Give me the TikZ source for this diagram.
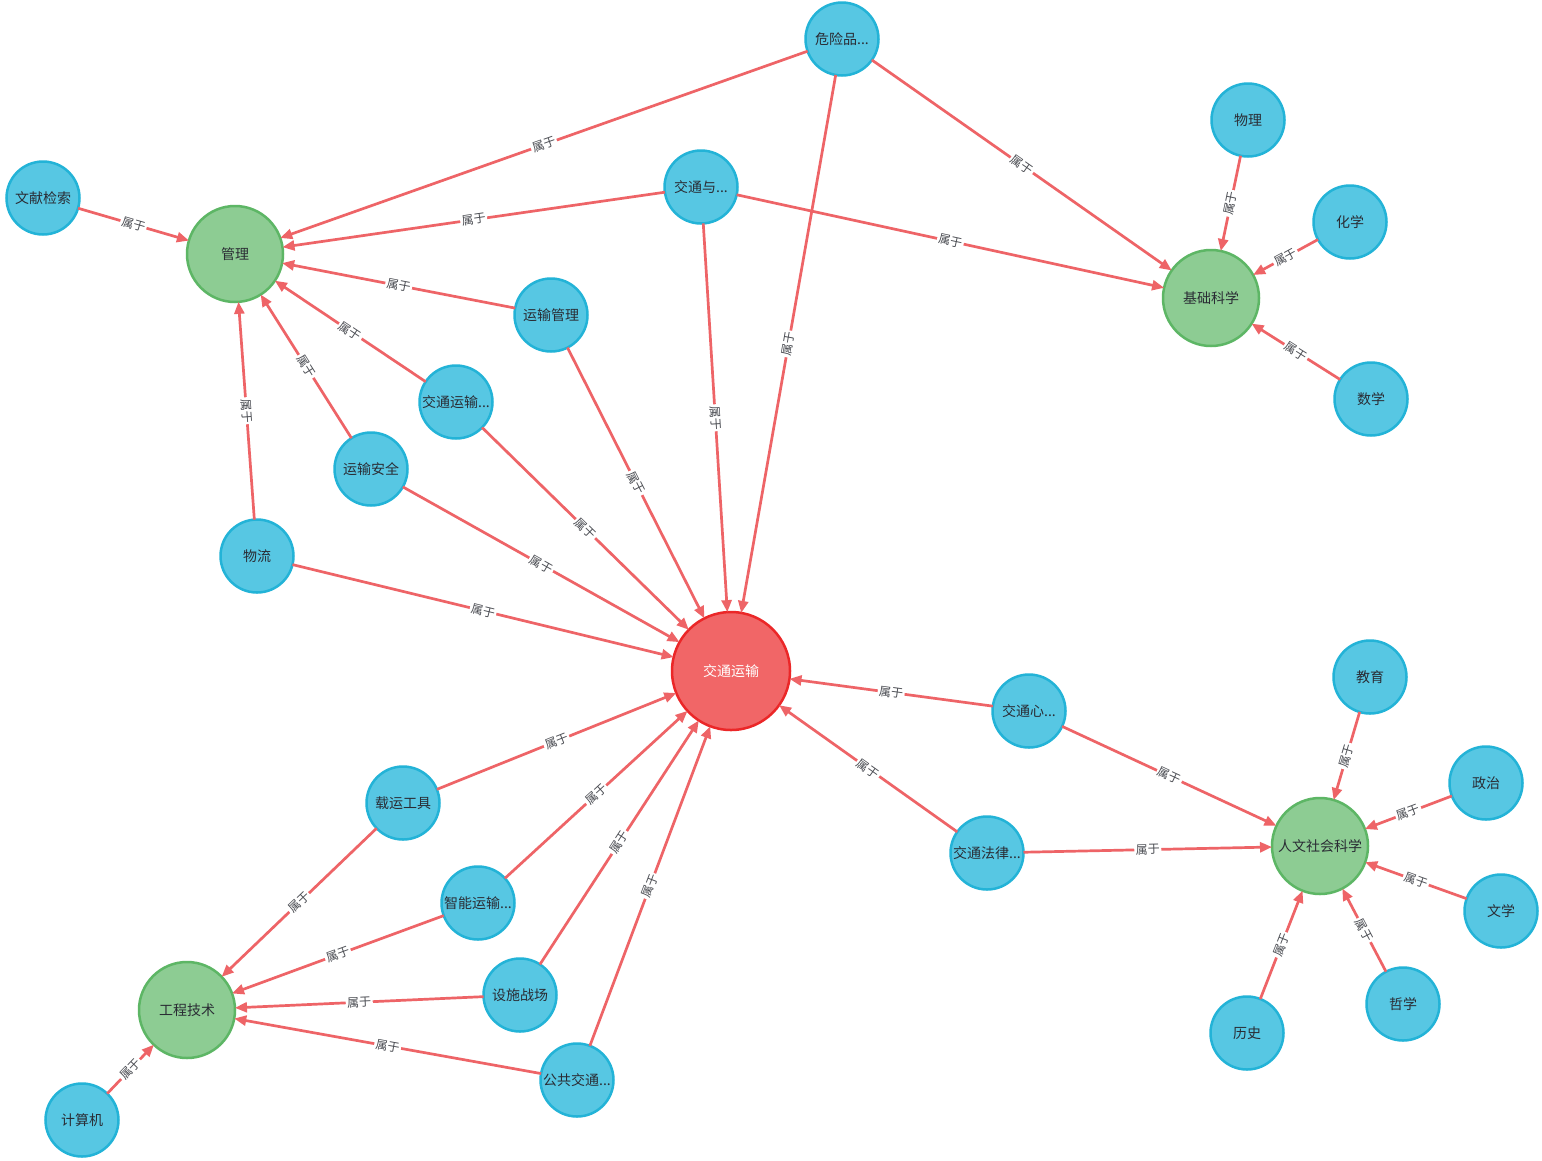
\documentclass[tikz,border=0pt]{standalone}
\usepackage{fontspec}
\newfontfamily\cjk{Noto Sans CJK SC}
\usetikzlibrary{arrows.meta}
\definecolor{bfill}{HTML}{57C7E3}
\definecolor{bdraw}{HTML}{23B3D7}
\definecolor{gfill}{HTML}{8DCC93}
\definecolor{gdraw}{HTML}{5DB665}
\definecolor{rfill}{HTML}{F16667}
\definecolor{rdraw}{HTML}{EB2728}
\definecolor{ecol}{HTML}{EE6467}
\definecolor{tcol}{HTML}{2A2C34}
\tikzset{
  base/.style={circle, line width=2.5pt, inner sep=0pt, outer sep=0pt, font=\cjk\fontsize{14}{16}\selectfont, text=tcol},
  bnode/.style={base, fill=bfill, draw=bdraw, minimum size=73pt},
  gnode/.style={base, fill=gfill, draw=gdraw, minimum size=96pt},
  rnode/.style={base, fill=rfill, draw=rdraw, minimum size=118pt, text=white},
  edge/.style={draw=ecol, line width=2.7pt, -{Triangle[length=12pt,width=10pt]}},
  lbl/.style={midway, sloped, fill=white, inner sep=1.5pt, text=tcol!85, font=\cjk\fontsize{12}{13}\selectfont}
}
\begin{document}
\begin{tikzpicture}[x=1pt,y=-1pt]
\useasboundingbox (0,0) rectangle (1542,1160);
\fill[white] (0,0) rectangle (1542,1160);
% main
\node[rnode] (T) at (731,671) {交通运输};
% categories
\node[gnode] (GL) at (235,254) {管理};
\node[gnode] (JC) at (1211,298) {基础科学};
\node[gnode] (GC) at (187,1010) {工程技术};
\node[gnode] (RW) at (1320,846) {人文社会科学};
% leaves
\node[bnode] (WX) at (43,198) {文献检索};
\node[bnode] (WH) at (842,39) {危险品...};
\node[bnode] (JTY) at (701,187) {交通与...};
\node[bnode] (YSGL) at (551,315) {运输管理};
\node[bnode] (JTYS) at (456,402) {交通运输...};
\node[bnode] (YSAQ) at (371,469) {运输安全};
\node[bnode] (WL) at (257,556) {物流};
\node[bnode] (WLi) at (1248,120) {物理};
\node[bnode] (HX) at (1350,222) {化学};
\node[bnode] (SX) at (1371,399) {数学};
\node[bnode] (XL) at (1029,711) {交通心...};
\node[bnode] (FL) at (987,853) {交通法律...};
\node[bnode] (ZY) at (403,803) {载运工具};
\node[bnode] (ZN) at (478,903) {智能运输...};
\node[bnode] (SS) at (520,995) {设施战场};
\node[bnode] (GG) at (577,1080) {公共交通...};
\node[bnode] (JSJ) at (82,1120) {计算机};
\node[bnode] (JY) at (1370,677) {教育};
\node[bnode] (ZZ) at (1486,783) {政治};
\node[bnode] (WXue) at (1501,911) {文学};
\node[bnode] (ZX) at (1403,1004) {哲学};
\node[bnode] (LS) at (1247,1033) {历史};
% edges
\draw[edge] (WH) -- node[lbl]{属于} (GL);
\draw[edge] (WH) -- node[lbl]{属于} (T);
\draw[edge] (WH) -- node[lbl]{属于} (JC);
\draw[edge] (WX) -- node[lbl]{属于} (GL);
\draw[edge] (JTY) -- node[lbl]{属于} (GL);
\draw[edge] (JTY) -- node[lbl]{属于} (T);
\draw[edge] (JTY) -- node[lbl]{属于} (JC);
\draw[edge] (YSGL) -- node[lbl]{属于} (GL);
\draw[edge] (YSGL) -- node[lbl]{属于} (T);
\draw[edge] (JTYS) -- node[lbl]{属于} (GL);
\draw[edge] (JTYS) -- node[lbl]{属于} (T);
\draw[edge] (YSAQ) -- node[lbl]{属于} (GL);
\draw[edge] (YSAQ) -- node[lbl]{属于} (T);
\draw[edge] (WL) -- node[lbl]{属于} (GL);
\draw[edge] (WL) -- node[lbl]{属于} (T);
\draw[edge] (WLi) -- node[lbl]{属于} (JC);
\draw[edge] (HX) -- node[lbl]{属于} (JC);
\draw[edge] (SX) -- node[lbl]{属于} (JC);
\draw[edge] (XL) -- node[lbl]{属于} (T);
\draw[edge] (XL) -- node[lbl]{属于} (RW);
\draw[edge] (FL) -- node[lbl]{属于} (T);
\draw[edge] (FL) -- node[lbl]{属于} (RW);
\draw[edge] (ZY) -- node[lbl]{属于} (T);
\draw[edge] (ZY) -- node[lbl]{属于} (GC);
\draw[edge] (ZN) -- node[lbl]{属于} (T);
\draw[edge] (ZN) -- node[lbl]{属于} (GC);
\draw[edge] (SS) -- node[lbl]{属于} (T);
\draw[edge] (SS) -- node[lbl]{属于} (GC);
\draw[edge] (GG) -- node[lbl]{属于} (T);
\draw[edge] (GG) -- node[lbl]{属于} (GC);
\draw[edge] (JSJ) -- node[lbl]{属于} (GC);
\draw[edge] (JY) -- node[lbl]{属于} (RW);
\draw[edge] (ZZ) -- node[lbl]{属于} (RW);
\draw[edge] (WXue) -- node[lbl]{属于} (RW);
\draw[edge] (ZX) -- node[lbl]{属于} (RW);
\draw[edge] (LS) -- node[lbl]{属于} (RW);
\end{tikzpicture}
\end{document}
